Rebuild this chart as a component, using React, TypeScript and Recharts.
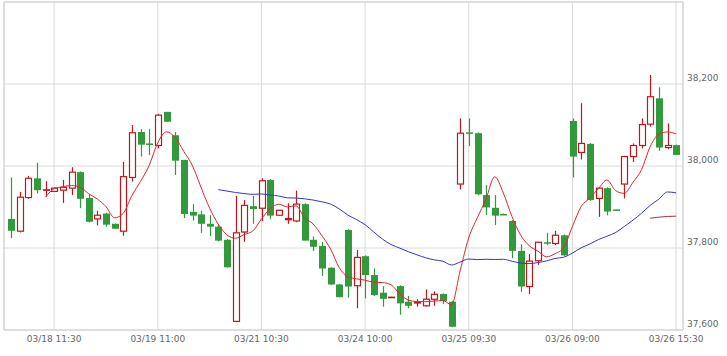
import React from 'react';
import { ComposedChart, Bar, Line, XAxis, YAxis, CartesianGrid, ReferenceLine } from 'recharts';

// 30-min candles, 03/18 09:00 .. 03/26 15:30
const opens = [
  37871, 37841, 37923, 37970, 37941, 37938, 37941, 37946, 37985, 37922,
  37871, 37884, 37859, 37841, 37972, 38083, 38055, 38050, 38132, 38075,
  38015, 37888, 37882, 37859, 37852, 37820, 37621, 37839, 37902, 37897,
  37966, 37880, 37869, 37866, 37907, 37820, 37805, 37752, 37711, 37844,
  37708, 37780, 37734, 37691, 37680, 37707, 37669, 37666, 37659, 37675,
  37688, 37669, 37956, 38082, 38080, 37929, 37898, 37883, 37866, 37793,
  37706, 37769, 37814, 37811, 37831, 38110, 38033, 38054, 37921, 37946,
  37894, 37956, 38023, 38050, 38102, 38165, 38045, 38051,
];
const highs = [
  37972, 37937, 37976, 38008, 37963, 37948, 37966, 37997, 37987, 37931,
  37891, 37886, 37860, 38010, 38100, 38090, 38090, 38127, 38132, 38083,
  38015, 37907, 37891, 37880, 37856, 37822, 37927, 37917, 37927, 37970,
  37968, 37893, 37909, 37940, 37909, 37828, 37815, 37753, 37712, 37846,
  37795, 37782, 37750, 37707, 37681, 37709, 37683, 37675, 37699, 37694,
  37689, 37671, 38116, 38116, 38082, 37954, 37929, 37884, 37868, 37809,
  37785, 37815, 37837, 37842, 37833, 38116, 38153, 38056, 37948, 37948,
  37894, 38025, 38055, 38116, 38222, 38192, 38104, 38052,
];
const lows = [
  37824, 37838, 37920, 37933, 37925, 37937, 37910, 37929, 37897, 37862,
  37855, 37852, 37847, 37830, 37962, 38023, 38027, 38043, 38108, 37978,
  37873, 37867, 37837, 37829, 37816, 37752, 37619, 37815, 37859, 37866,
  37870, 37879, 37859, 37863, 37818, 37793, 37732, 37710, 37680, 37679,
  37653, 37677, 37683, 37657, 37679, 37637, 37653, 37657, 37657, 37659,
  37663, 37607, 37943, 38049, 37929, 37880, 37856, 37882, 37775, 37693,
  37688, 37759, 37807, 37807, 37781, 37972, 38016, 37915, 37876, 37880,
  37892, 37921, 38010, 38043, 38096, 38037, 38041, 38027,
];
const closes = [
  37842, 37924, 37970, 37941, 37942, 37946, 37948, 37985, 37920, 37864,
  37880, 37857, 37847, 37974, 38081, 38052, 38052, 38124, 38108, 38013,
  37883, 37879, 37859, 37852, 37818, 37753, 37837, 37904, 37895, 37964,
  37879, 37892, 37872, 37907, 37818, 37803, 37750, 37711, 37680, 37706,
  37777, 37734, 37685, 37676, 37680, 37665, 37659, 37667, 37675, 37687,
  37671, 37608, 38080, 38080, 37931, 37899, 37879, 37882, 37793, 37706,
  37768, 37814, 37812, 37831, 37782, 38023, 38055, 37917, 37946, 37889,
  37892, 38023, 38050, 38101, 38169, 38045, 38050, 38027,
];

const tickIndex = [5, 17, 29, 41, 53, 65, 77];
const tickLabels = ['03/18 11:30', '03/19 11:00', '03/21 10:30', '03/24 10:00', '03/25 09:30', '03/26 09:00', '03/26 15:30'];
const priceTicks = [37600, 37800, 38000, 38200];

const UP = '#c0161b';
const DOWN = '#33993d';

const movingAvg = (n: number) =>
  closes.map((_, i) => {
    if (i < n - 1) return null;
    let s = 0;
    for (let k = i - n + 1; k <= i; k++) s += closes[k];
    return s / n;
  });

const ma5 = movingAvg(5);
const ma25 = movingAvg(25);
const ma75 = movingAvg(75);

const data = closes.map((c, i) => ({
  i,
  open: opens[i],
  high: highs[i],
  low: lows[i],
  close: c,
  ma5: ma5[i],
  ma25: ma25[i],
  ma75: ma75[i],
}));

const Candle = (props: any) => {
  const { x, y, width, height, payload } = props;
  if (x == null || y == null) return null;
  const { open, close, high, low } = payload;
  const span = high - low || 1;
  const toY = (v: number) => y + ((high - v) / span) * height;
  const cx = Math.round(x + width / 2) + 0.5;
  const top = toY(Math.max(open, close));
  const bottom = toY(Math.min(open, close));
  if (close >= open) {
    return (
      <g>
        <line x1={cx} x2={cx} y1={toY(high)} y2={top} stroke={UP} strokeWidth={1.2} />
        <line x1={cx} x2={cx} y1={bottom} y2={toY(low)} stroke={UP} strokeWidth={1.2} />
        <rect x={cx - 3} y={top} width={6} height={Math.max(bottom - top, 0.5)} fill="#fff" stroke={UP} strokeWidth={1.2} />
      </g>
    );
  }
  return (
    <g>
      <line x1={cx} x2={cx} y1={toY(high)} y2={toY(low)} stroke={DOWN} strokeWidth={1.2} />
      <rect x={cx - 3.5} y={top} width={7} height={Math.max(bottom - top, 1.5)} fill={DOWN} />
    </g>
  );
};

const XTick = (props: any) => {
  const { x, y, payload } = props;
  const idx = tickIndex.indexOf(payload.value);
  return (
    <text x={x} y={y} dy={12} textAnchor="middle" fontSize={9} fill="#666" fontFamily="DejaVu Sans">
      {tickLabels[idx]}
    </text>
  );
};

const YTick = (props: any) => {
  const { x, y, payload } = props;
  return (
    <text x={x} y={y} dy={-3.5} textAnchor="start" fontSize={9} fill="#666" fontFamily="DejaVu Sans">
      {payload.value.toLocaleString('en-US')}
    </text>
  );
};

export default function App() {
  return (
    <div style={{ position: 'absolute', left: 0, top: 0, background: '#fff' }}>
      <ComposedChart width={727} height={356} data={data} margin={{ top: 2, right: 0, bottom: 6, left: 4 }}>
        <CartesianGrid stroke="#dadada" horizontal={true} vertical={true} />
        <XAxis
          type="number"
          dataKey="i"
          domain={[-0.8, 77.8]}
          ticks={tickIndex}
          allowDataOverflow
          height={20}
          tickLine={false}
          tickSize={0}
          tickMargin={0}
          axisLine={{ stroke: '#cfcfcf' }}
          tick={<XTick />}
          interval={0}
        />
        <YAxis
          orientation="right"
          domain={[37600, 38400]}
          ticks={priceTicks}
          allowDataOverflow
          width={44}
          tickLine={false}
          tickSize={0}
          tickMargin={4}
          axisLine={{ stroke: '#cfcfcf' }}
          tick={<YTick />}
          interval={0}
        />
        <ReferenceLine y={38400} stroke="#d0d0d0" />
        <ReferenceLine x={-0.8} stroke="#d0d0d0" />
        <Bar dataKey={(d: any) => [d.low, d.high]} barSize={7} shape={<Candle />} isAnimationActive={false} />
        <Line type="monotone" dataKey="ma5" stroke="#e4262a" strokeWidth={1} dot={false} isAnimationActive={false} />
        <Line type="monotone" dataKey="ma25" stroke="#3333d6" strokeWidth={1} dot={false} isAnimationActive={false} />
        <Line type="monotone" dataKey="ma75" stroke="#9c3535" strokeWidth={1} dot={false} isAnimationActive={false} />
      </ComposedChart>
    </div>
  );
}
